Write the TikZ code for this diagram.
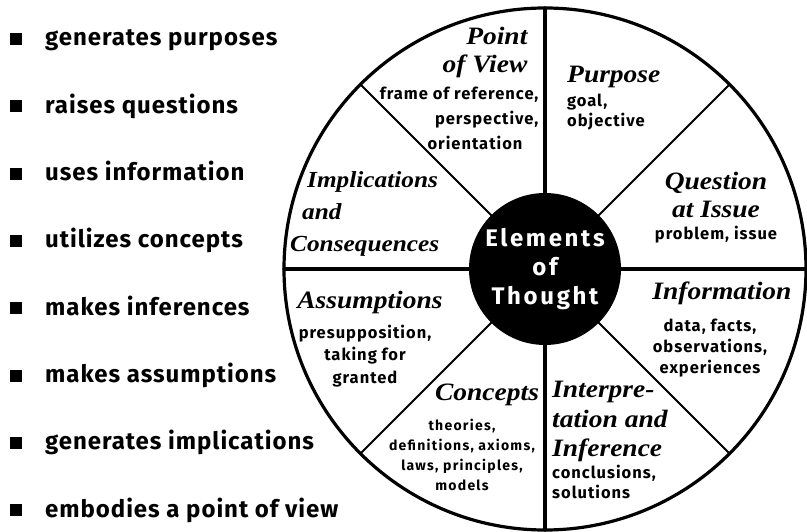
\documentclass[tikz,border=0pt]{standalone}
\usepackage{fontspec}
\usetikzlibrary{positioning}
\newfontfamily\listfont{Fira Sans}[LetterSpace=4]
\newfontfamily\hubfont{Fira Sans}[LetterSpace=11]
\newfontfamily\notefont{Fira Sans}[LetterSpace=6]
\newfontfamily\smallfont{Fira Sans}[LetterSpace=9]
\newfontfamily\headfont{Liberation Serif}[FakeStretch=1.1]
\begin{document}
\begin{tikzpicture}[x=1pt, y=-1pt, line join=round, line cap=round,
 item/.style={anchor=base west, inner sep=0pt, font=\listfont\bfseries\fontsize{24}{28}\selectfont},
 dot/.style={fill=black, inner sep=0pt, minimum size=12pt},
 hub/.style={circle, fill=black, inner sep=0pt, minimum size=152pt, text=white, align=center,
   font=\hubfont\bfseries\fontsize{24}{29}\selectfont},
 ttl/.style={inner sep=0pt, font=\headfont\bfseries\itshape\fontsize{25}{28}\selectfont},
 txt/.style={inner sep=0pt, font=\notefont\bfseries\fontsize{16.5}{21}\selectfont},
 rim/.style={line width=3.2pt},
 spoke/.style={line width=2pt}]
 \def\R{261}
 \useasboundingbox (0,0) rectangle (807,532);
 \fill[white] (0,0) rectangle (807,532);
 % left column
 \foreach \lbl [count=\i] in {generates purposes, raises questions, uses information,
   utilizes concepts, makes inferences, makes assumptions, generates implications,
   embodies a point of view}{
   \node[dot] (dot\i) at (16,{39+67.3*(\i-1)}) {};
   \node[item] (item\i) at (45,{46+67.3*(\i-1)}) {\lbl};
 }
 % wheel
 \coordinate (o) at (545,269);
 \draw[rim] (o) circle (\R pt);
 \node[hub] (hub) at (o) {Elements\\of\\Thought};
 \foreach \a in {0,45,...,315}
   \coordinate (rim\a) at ([shift={(-\a:\R)}]o);
 \foreach \a in {0,90,180,270}
   \draw[rim] (hub.\a) -- (rim\a);
 \foreach \a in {45,135,225,315}
   \draw[spoke] (hub.\a) -- (rim\a);
 % sectors
 \node[ttl, align=right] (pov) at (485,52) {Point\\of View};
 \node[txt, align=right, anchor=north east, font=\notefont\bfseries\fontsize{16.5}{25}\selectfont]
   (povtxt) at ([xshift=11pt,yshift=-9pt]pov.south east)
   {frame of reference,\\perspective,\hspace*{17pt}\\orientation\hspace*{16pt}};
 \node[ttl, anchor=west] (pur) at (567,77) {Purpose};
 \node[txt, align=left, anchor=north west, font=\notefont\bfseries\fontsize{16.5}{20}\selectfont]
   (purtxt) at ([yshift=-6pt]pur.south west) {goal,\\objective};
 \node[ttl, align=center] (que) at (716,195) {Question\\at Issue};
 \node[txt, below=8pt of que] (quetxt) {problem, issue};
 \node[ttl] (inf) at (722,293) {Information};
 \node[txt, align=center, below=14pt of inf, xshift=-12pt] (inftxt)
   {data, facts,\\observations,\\experiences};
 \node[ttl, align=left, anchor=north west, font=\headfont\bfseries\itshape\fontsize{25}{29.5}\selectfont]
   (int) at (552,381) {Interpre-\\tation and\\Inference};
 \node[txt, align=left, anchor=north west, font=\notefont\bfseries\fontsize{16.5}{20}\selectfont]
   (inttxt) at ([yshift=-3pt]int.south west) {conclusions,\\solutions};
 \node[ttl] (con) at (487,395) {Concepts};
 \node[txt, align=center, below=13pt of con, xshift=-25pt, font=\smallfont\bfseries\fontsize{14}{20}\selectfont]
   (contxt) {theories,\\definitions, axioms,\\laws, principles,\\models};
 \node[ttl] (asm) at (370,302) {Assumptions};
 \node[txt, align=center, below=11pt of asm, xshift=-5pt, font=\notefont\bfseries\fontsize{16.5}{22.5}\selectfont]
   (asmtxt) {presupposition,\\taking for\\granted};
 \node[ttl, align=left, anchor=north west, font=\headfont\bfseries\itshape\fontsize{23}{32}\selectfont]
   (imp) at (290,171) {\hspace*{17pt}Implications\\\hspace*{12pt}and\\Consequences};
\end{tikzpicture}
\end{document}
